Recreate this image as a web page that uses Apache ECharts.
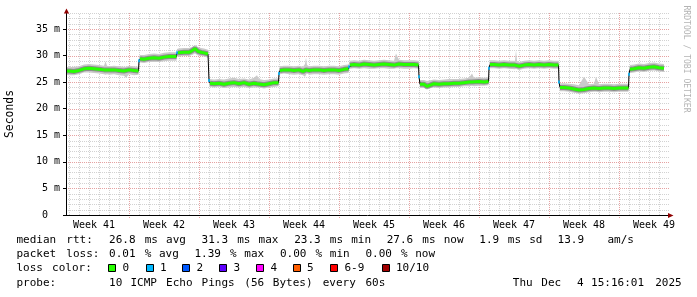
<!DOCTYPE html>
<html>
<head>
<meta charset="utf-8">
<script src="https://cdn.jsdelivr.net/npm/echarts@6/dist/echarts.min.js"></script>
<style>
html,body{margin:0;padding:0;background:#fff;}
#c{width:697px;height:297px;}
</style>
</head>
<body>
<div id="c"></div>
<script>
// ---- data (days since start of week 41; values in ms) ----
const days = [
  0.7,1.0,1.5,2.0,2.5,3.0,3.5,4.0,4.5,4.65,4.8,5.0,5.5,6.0,6.5,6.7,7.0,7.5,7.95,
  8.0,8.1,8.5,9.0,9.5,10.0,10.5,11.0,11.5,11.75,
  11.8,11.9,12.5,13.0,13.3,13.6,13.9,14.2,14.5,14.9,
  15.0,15.1,15.5,16.0,16.5,17.0,17.5,18.0,18.5,19.0,19.5,19.8,20.0,20.5,21.0,21.5,21.95,
  22.0,22.1,22.5,23.0,23.5,24.0,24.4,24.6,24.7,24.8,25.0,25.5,26.0,26.5,27.0,27.5,28.0,28.5,28.95,
  29.0,29.1,29.5,30.0,30.5,31.0,31.5,32.0,32.5,33.0,33.5,33.7,34.0,34.5,35.0,35.5,35.95,
  36.0,36.1,36.5,36.8,37.0,37.5,38.0,38.5,39.0,39.5,40.0,40.5,41.0,41.3,41.5,42.0,42.5,42.95,
  43.0,43.1,43.5,44.0,44.5,45.0,45.6,45.7,45.8,46.0,46.5,47.0,47.5,48.0,48.5,49.0,49.5,49.95,
  50.0,50.1,50.5,51.0,51.5,52.0,52.5,53.0,53.5,53.7,54.0,54.5,55.0,55.5,56.0,56.5,56.95,
  57.0,57.1,57.5,58.0,58.5,59.0,59.5,60.0,60.5
];
const median = [
  27.1,27.1,27.0,27.2,27.5,27.6,27.5,27.4,27.3,27.3,27.3,27.2,27.3,27.2,27.1,27.1,27.3,27.2,27.1,
  29.0,29.4,29.3,29.5,29.6,29.5,29.7,29.8,29.8,29.8,
  30.5,30.5,30.6,30.6,30.9,31.3,30.8,30.6,30.5,30.3,
  25.3,24.8,24.7,24.8,24.6,24.8,24.9,24.7,24.9,24.6,24.8,24.7,24.7,24.5,24.7,24.9,24.9,
  26.6,27.2,27.3,27.3,27.2,27.3,27.0,26.8,27.3,27.4,27.2,27.3,27.3,27.2,27.3,27.3,27.2,27.4,27.5,
  27.9,28.2,28.3,28.2,28.4,28.3,28.2,28.3,28.4,28.3,28.2,28.3,28.4,28.3,28.3,28.3,28.2,
  26.0,24.6,24.6,24.2,24.5,24.7,24.6,24.7,24.7,24.8,24.8,24.9,25.0,25.0,25.0,25.1,25.0,25.1,
  27.6,28.3,28.3,28.2,28.3,28.2,28.2,28.3,28.2,28.0,28.2,28.3,28.2,28.3,28.2,28.3,28.2,28.2,
  25.0,24.0,24.0,23.9,23.7,23.5,23.6,23.8,23.9,23.9,23.8,23.9,23.9,23.8,23.9,23.9,23.9,
  26.5,27.4,27.5,27.7,27.6,27.8,27.9,27.7,27.6
];
const smokeLo = [
  26.4,26.3,26.3,26.5,26.8,26.8,26.7,26.6,26.5,26.4,26.5,26.4,26.5,26.3,26.2,25.8,26.5,26.3,26.4,
  28.5,28.7,28.6,28.8,28.8,28.8,28.9,29.0,29.0,29.0,
  29.8,29.8,29.9,29.9,30.1,30.4,30.0,29.9,29.8,29.6,
  24.8,24.1,24.0,24.1,23.9,24.0,24.1,24.0,24.1,23.9,24.0,24.0,24.0,23.8,24.0,24.1,24.2,
  26.0,26.5,26.6,26.5,26.4,26.5,26.3,26.0,26.4,26.6,26.4,26.5,26.5,26.4,26.5,26.5,26.4,26.6,26.7,
  27.3,27.5,27.6,27.5,27.6,27.5,27.5,27.6,27.6,27.5,27.5,27.6,27.6,27.5,27.5,27.6,27.5,
  25.4,23.9,23.9,23.6,23.8,24.0,23.9,24.0,24.0,24.1,24.1,24.2,24.2,24.3,24.2,24.3,24.3,24.4,
  27.0,27.6,27.6,27.5,27.6,27.5,27.4,27.5,27.4,27.3,27.5,27.6,27.5,27.6,27.5,27.6,27.5,27.5,
  24.4,23.3,23.3,23.2,23.0,22.8,22.9,23.1,23.2,23.2,23.1,23.2,23.2,23.1,23.2,23.2,23.2,
  25.9,26.7,26.8,27.0,26.9,27.1,27.2,27.0,26.9
];
const smokeHi = [
  27.9,27.8,27.9,28.0,28.3,28.4,28.3,28.2,28.1,28.9,28.1,28.0,28.1,28.0,27.9,27.9,28.1,28.0,27.9,
  29.8,30.1,30.1,30.3,30.4,30.3,30.5,30.6,30.6,30.6,
  31.2,31.3,31.4,31.4,31.6,32.0,31.6,31.4,31.3,31.1,
  26.0,25.6,25.5,25.6,25.5,25.7,25.8,25.6,25.7,25.5,25.8,26.3,25.6,25.4,25.5,25.7,25.7,
  27.4,28.0,28.1,28.1,28.0,28.1,27.9,28.4,29.6,28.2,28.0,28.1,28.1,28.0,28.1,28.1,28.0,28.2,28.3,
  28.6,29.0,29.1,29.0,29.2,29.1,29.0,29.1,29.2,29.1,29.0,30.4,29.2,29.1,29.1,29.1,29.0,
  26.6,25.4,25.4,25.2,25.3,25.5,25.4,25.5,25.6,25.6,25.6,25.7,25.8,26.6,25.8,25.9,25.8,25.9,
  28.3,29.1,29.1,29.0,29.1,29.0,29.0,31.0,29.0,28.8,29.0,29.1,29.0,29.1,29.0,29.1,29.0,29.0,
  25.7,24.8,24.8,24.7,24.6,24.4,26.0,24.6,24.7,26.0,24.6,24.7,24.7,24.6,24.7,24.7,24.7,
  27.2,28.2,28.3,28.5,28.4,28.6,28.7,28.5,28.4
];
const lossPings = [
  0,0,0,0,0,0,0,0,0,0,0,0,0,0,0,0,0,0,0,
  1,0,0,0,0,0,0,0,0,0,
  1,0,0,0,0,0,0,0,0,0,
  1,0,0,0,0,0,0,0,0,0,0,0,0,0,0,0,0,
  1,0,0,0,0,0,0,0,0,0,0,0,0,0,0,0,0,0,0,
  1,0,0,0,0,0,0,0,0,0,0,0,0,0,0,0,0,
  1,0,0,0,0,0,0,0,0,0,0,0,0,0,0,0,0,0,
  1,0,0,0,0,0,0,0,0,0,0,0,0,0,0,0,0,0,
  1,0,0,0,0,0,0,0,0,0,0,0,0,0,0,0,0,
  1,0,0,0,0,0,0,0,0
];
const weekLabels = ['Week 41','Week 42','Week 43','Week 44','Week 45','Week 46','Week 47','Week 48','Week 49'];
const yTickValues = [0,5,10,15,20,25,30,35];
const lossLegend = ['0','1','2','3','4','5','6-9','10/10'];
const lossColors = ['#26ff00','#00b8ff','#0059ff','#5e00ff','#ff00ff','#ff5e00','#ff0000','#a00000'];
const statsRows = [
  'median rtt:  26.8 ms avg  31.3 ms max  23.3 ms min  27.6 ms now  1.9 ms sd  13.9   am/s',
  'packet loss: 0.01 % avg  1.39 % max  0.00 % min  0.00 % now',
  'loss color:',
  'probe:       10 ICMP Echo Pings (56 Bytes) every 60s'
];
const dateText = 'Thu Dec  4 15:16:01 2025';
const yAxisName = 'Seconds';
const watermark = 'RRDTOOL / TOBI OETIKER';

// ---- layout / style ----
const X_MIN = 0.7, X_MAX = 61.0, Y_MIN = 0, Y_MAX = 38;
const MONO = '"DejaVu Sans Mono", monospace';
const GRID_MINOR = '#d2d2d2', GRID_MAJOR = '#e6a2a2', ARROW = '#8f0000';
const weekCenters = weekLabels.map((_, i) => 7 * i + 3.5);
const dayLines = [];
for (let d = 1; d < X_MAX; d++) dayLines.push(d);
const hLines = [];
for (let v = 1; v <= Y_MAX; v++) hLines.push(v);

const chart = echarts.init(document.getElementById('c'), null, {renderer: 'canvas'});

const pts = days.map((d, i) => [d, median[i]]);
const greenPts = days.map((d, i) => [d, lossPings[i] === 0 ? median[i] : null]);
const lossPts = [];
days.forEach((d, i) => { if (lossPings[i] > 0) lossPts.push({value: [d, median[i]], itemStyle: {color: lossColors[lossPings[i]]}}); });

// text helpers
const CW = 7.12, TX0 = 16.5, ROW_Y = [240.2, 254.4, 268.6, 282.8];
const TFONT = '11px ' + MONO;
function tokens(str, x0, y) {
  const out = []; const re = /\S+/g; let m;
  while ((m = re.exec(str))) {
    out.push({type: 'text', x: x0 + m.index * CW, y: y, silent: true,
      style: {text: m[0], font: TFONT, fill: '#000', align: 'left', verticalAlign: 'middle'}});
  }
  return out;
}
const graphics = [];
statsRows.forEach((r, i) => graphics.push(...tokens(r, TX0, ROW_Y[i])));
graphics.push(...tokens(dateText, 512.8, ROW_Y[3]));
const squareX = [108, 145.5, 182, 219, 256, 292.5, 330, 381.5];
lossLegend.forEach((lab, i) => {
  graphics.push({type: 'rect', silent: true, shape: {x: Math.round(squareX[i]) + 0.5, y: 264.5, width: 7, height: 7},
    style: {fill: lossColors[i], stroke: '#000', lineWidth: 1}});
  graphics.push({type: 'text', silent: true, x: squareX[i] + 14.5, y: ROW_Y[2],
    style: {text: lab, font: TFONT, fill: '#000', align: 'left', verticalAlign: 'middle'}});
});
graphics.push({type: 'text', silent: true, x: 10.5, y: 114, rotation: Math.PI / 2,
  style: {text: yAxisName, font: '11.4px ' + MONO, fill: '#000', align: 'center', verticalAlign: 'middle'}});
graphics.push({type: 'text', silent: true, x: 686.5, y: 59, rotation: -Math.PI / 2,
  style: {text: watermark, font: '8.1px ' + MONO, fill: '#b4b4b4', align: 'center', verticalAlign: 'middle'}});

const option = {
  animation: false,
  backgroundColor: '#ffffff',
  grid: {left: 66, right: 28, top: 13, bottom: 82, containLabel: false, outerBoundsMode: 'none'},
  xAxis: {
    type: 'value', min: X_MIN, max: X_MAX, z: 10,
    axisLine: {show: true, onZero: false, lineStyle: {color: '#000', width: 1}},
    axisTick: {show: false},
    splitLine: {show: false},
    axisLabel: {show: true, customValues: weekCenters,
      formatter: v => weekLabels[Math.round((v - 3.5) / 7)],
      margin: 10.5, verticalAlign: 'middle', color: '#000', fontFamily: MONO, fontSize: 10}
  },
  yAxis: {
    type: 'value', min: Y_MIN, max: Y_MAX, z: 10,
    axisLine: {show: true, onZero: false, lineStyle: {color: '#000', width: 1}},
    axisTick: {show: true, customValues: yTickValues, length: 3, lineStyle: {color: '#000'}},
    splitLine: {show: false},
    axisLabel: {show: true, customValues: yTickValues,
      formatter: v => v === 0 ? '0  ' : v + ' m',
      margin: 6, color: '#000', fontFamily: MONO, fontSize: 10}
  },
  series: [
    { // vertical grid (daily, weekly in red)
      type: 'custom', z: 1, silent: true, data: dayLines.map(d => [d, 0]),
      renderItem: (params, api) => {
        const d = api.value(0);
        const p0 = api.coord([d, Y_MIN]), p1 = api.coord([d, Y_MAX]);
        const x = Math.round(p0[0]) + 0.5;
        const major = d % 7 === 0;
        return {type: 'line', shape: {x1: x, y1: p0[1] + (major ? 3 : 0), x2: x, y2: p1[1]},
          style: {stroke: major ? GRID_MAJOR : GRID_MINOR, lineWidth: 1, lineDash: [1, 1]}};
      }
    },
    { // horizontal grid (1 ms, 5 ms in red)
      type: 'custom', z: 1, silent: true, data: hLines.map(v => [X_MIN, v]),
      renderItem: (params, api) => {
        const v = api.value(1);
        const p0 = api.coord([X_MIN, v]), p1 = api.coord([X_MAX, v]);
        const y = Math.round(p0[1]) + 0.5;
        const major = v % 5 === 0;
        return {type: 'line', shape: {x1: p0[0], y1: y, x2: p1[0], y2: y},
          style: {stroke: major ? GRID_MAJOR : GRID_MINOR, lineWidth: 1, lineDash: [1, 1]}};
      }
    },
    { // smoke band
      type: 'custom', z: 2, silent: true, data: [[days[0], smokeLo[0]]],
      renderItem: (params, api) => {
        const poly = [];
        for (let i = 0; i < days.length; i++) poly.push(api.coord([days[i], smokeHi[i]]));
        for (let i = days.length - 1; i >= 0; i--) poly.push(api.coord([days[i], smokeLo[i]]));
        return {type: 'polygon', shape: {points: poly}, style: {fill: '#cacaca'}};
      }
    },
    {type: 'line', z: 3, silent: true, data: greenPts, showSymbol: false, symbol: 'none', connectNulls: false,
      lineStyle: {color: '#8e8e8e', width: 5}},
    {type: 'line', z: 4, silent: true, data: pts, showSymbol: false, symbol: 'none',
      lineStyle: {color: '#000000', width: 1}},
    {type: 'line', z: 5, silent: true, data: greenPts, showSymbol: false, symbol: 'none', connectNulls: false,
      lineStyle: {color: lossColors[0], width: 3}},
    {type: 'scatter', z: 6, silent: true, data: lossPts, symbol: 'rect', symbolSize: [2, 3]},
    { // axis arrows
      type: 'custom', z: 11, silent: true, clip: false, data: [[X_MAX, Y_MAX]],
      renderItem: (params, api) => {
        const ex = api.coord([X_MAX, Y_MIN]);
        const ey = api.coord([X_MIN, Y_MAX]);
        const xe = Math.round(ex[0]), yb = Math.round(ex[1]) + 0.5;
        const xa = Math.round(ey[0]) + 0.5, yt = Math.round(ey[1]);
        return {type: 'group', children: [
          {type: 'polygon', shape: {points: [[xe - 1, yb - 2.6], [xe + 4.5, yb], [xe - 1, yb + 2.6]]}, style: {fill: ARROW}},
          {type: 'polygon', shape: {points: [[xa - 2.6, yt + 0.5], [xa, yt - 4.5], [xa + 2.6, yt + 0.5]]}, style: {fill: ARROW}}
        ]};
      }
    }
  ],
  graphic: graphics
};
chart.setOption(option);
</script>
</body>
</html>
